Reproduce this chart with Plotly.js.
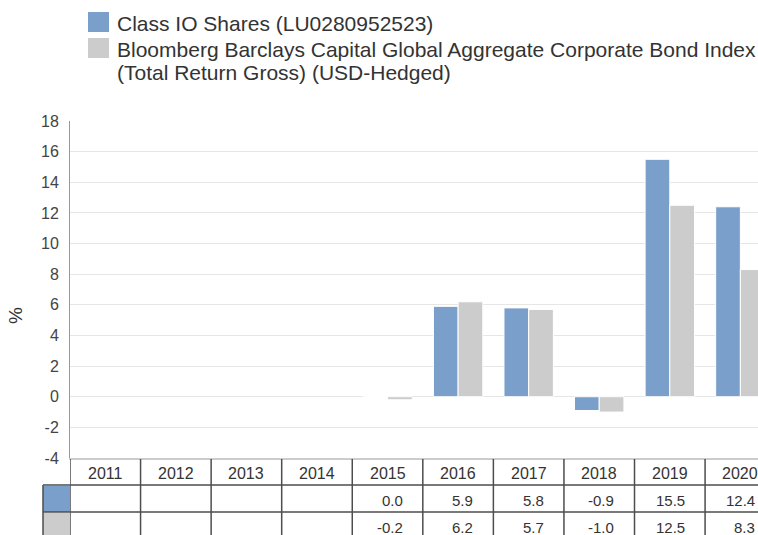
<!DOCTYPE html>
<html>
<head>
<meta charset="utf-8">
<script src="https://cdn.plot.ly/plotly-3.0.1.min.js"></script>
<style>html,body{margin:0;padding:0;background:#fff;}#chart{width:758px;height:535px;}</style>
</head>
<body>
<div id="chart"></div>
<script>
const years = ['2011','2012','2013','2014','2015','2016','2017','2018','2019','2020'];
const fundValues = [null, null, null, null, 0.0, 5.9, 5.8, -0.9, 15.5, 12.4];
const indexValues = [null, null, null, null, -0.2, 6.2, 5.7, -1.0, 12.5, 8.3];
const seriesNames = ['Class IO Shares (LU0280952523)', 'Bloomberg Barclays Capital Global Aggregate Corporate Bond Index', '(Total Return Gross) (USD-Hedged)'];
const seriesColors = ['#7a9fcb', '#cccccc'];
const yTicks = [-4, -2, 0, 2, 4, 6, 8, 10, 12, 14, 16, 18];

const FONT = 'Liberation Sans, Arial, sans-serif';
const textColor = '#333333';
const lineColor = '#4d4d4d';

const traces = [
  {type:'bar', name: seriesNames[0], x: years, y: fundValues,
   marker:{color: seriesColors[0], line:{color:'#ffffff', width:1}}, hoverinfo:'x+y'},
  {type:'bar', name: seriesNames[1] + ' ' + seriesNames[2], x: years, y: indexValues,
   marker:{color: seriesColors[1], line:{color:'#ffffff', width:1}}, hoverinfo:'x+y'}
];

const shapes = [];
const annotations = [];

// Table: vertical borders at category boundaries
for (let i = 0; i <= years.length; i++) {
  shapes.push({type:'line', xref:'x', yref:'paper', x0:i-0.5, x1:i-0.5,
    ysizemode:'pixel', yanchor:0, y0:-1, y1:-80, line:{color:lineColor, width:1.5}, layer:'above'});
}
// swatch cells (left column, outside the plot area -> paper/pixel)
shapes.push({type:'rect', xref:'paper', yref:'paper', xsizemode:'pixel', xanchor:0, x0:-27, x1:0,
  ysizemode:'pixel', yanchor:0, y0:-28, y1:-54, fillcolor:seriesColors[0], line:{width:0}});
shapes.push({type:'rect', xref:'paper', yref:'paper', xsizemode:'pixel', xanchor:0, x0:-27, x1:0,
  ysizemode:'pixel', yanchor:0, y0:-55, y1:-80, fillcolor:seriesColors[1], line:{width:0}});
// left swatch column border
shapes.push({type:'line', xref:'paper', yref:'paper', xsizemode:'pixel', xanchor:0, x0:-27, x1:-27,
  ysizemode:'pixel', yanchor:0, y0:-27, y1:-80, line:{color:lineColor, width:1.5}});
// horizontal borders
[-27, -54].forEach(function(yy){
  shapes.push({type:'line', xref:'paper', yref:'paper', xsizemode:'pixel', xanchor:0, x0:-27, x1:720,
    ysizemode:'pixel', yanchor:0, y0:yy, y1:yy, line:{color:lineColor, width:1.5}});
});

// Table texts (category index on the x axis)
years.forEach(function(yr, i){
  annotations.push({xref:'x', yref:'paper', x:i, y:0, yshift:-15, yanchor:'middle', xanchor:'center',
    text: yr, showarrow:false, font:{family:FONT, size:16, color:textColor}});
  [fundValues, indexValues].forEach(function(arr, r){
    if (arr[i] === null) return;
    annotations.push({xref:'x', yref:'paper', x:i, y:0, xshift:17, yshift: r===0 ? -42 : -69,
      yanchor:'middle', xanchor:'right', text: arr[i].toFixed(1), showarrow:false,
      font:{family:FONT, size:15, color:textColor}});
  });
});

// Legend (custom)
shapes.push({type:'rect', xref:'paper', yref:'paper', xsizemode:'pixel', xanchor:0, x0:18, x1:39,
  ysizemode:'pixel', yanchor:1, y0:109, y1:89, fillcolor:seriesColors[0], line:{width:0}});
shapes.push({type:'rect', xref:'paper', yref:'paper', xsizemode:'pixel', xanchor:0, x0:18, x1:39,
  ysizemode:'pixel', yanchor:1, y0:83, y1:63, fillcolor:seriesColors[1], line:{width:0}});
[[seriesNames[0], 98], [seriesNames[1], 72], [seriesNames[2], 49]].forEach(function(p){
  annotations.push({xref:'paper', yref:'paper', x:0, y:1, xshift:45, yshift:p[1], xanchor:'left', yanchor:'middle',
    text:p[0], showarrow:false, font:{family:FONT, size:21, color:textColor}});
});

// Y axis title
annotations.push({xref:'paper', yref:'paper', x:0, y:0, xshift:-55, yshift:142, xanchor:'center', yanchor:'middle',
  text:'%', textangle:-90, showarrow:false, font:{family:FONT, size:19, color:textColor}});

const layout = {
  width:758, height:535,
  margin:{l:70, r:0, t:121, b:77, pad:0},
  paper_bgcolor:'#ffffff', plot_bgcolor:'#ffffff',
  font:{family:FONT, color:textColor},
  showlegend:false,
  barmode:'group', bargap:0.3, bargroupgap:0,
  xaxis:{type:'category', range:[-0.5, 9.25], showticklabels:false, showgrid:false, zeroline:false,
    showline:true, linecolor:'#cccccc', linewidth:2, ticks:'', fixedrange:true},
  yaxis:{range:[-4, 18], tickvals:yTicks, ticktext:yTicks.map(String), showgrid:true, gridcolor:'#e6e6e6', gridwidth:1,
    zeroline:false, showline:true, linecolor:'#999999', linewidth:1, ticks:'', ticklabelstandoff:7,
    tickfont:{family:FONT, size:16, color:'#444444'}, fixedrange:true},
  shapes:shapes,
  annotations:annotations
};

Plotly.newPlot('chart', traces, layout, {displayModeBar:false, staticPlot:true});
</script>
</body>
</html>
